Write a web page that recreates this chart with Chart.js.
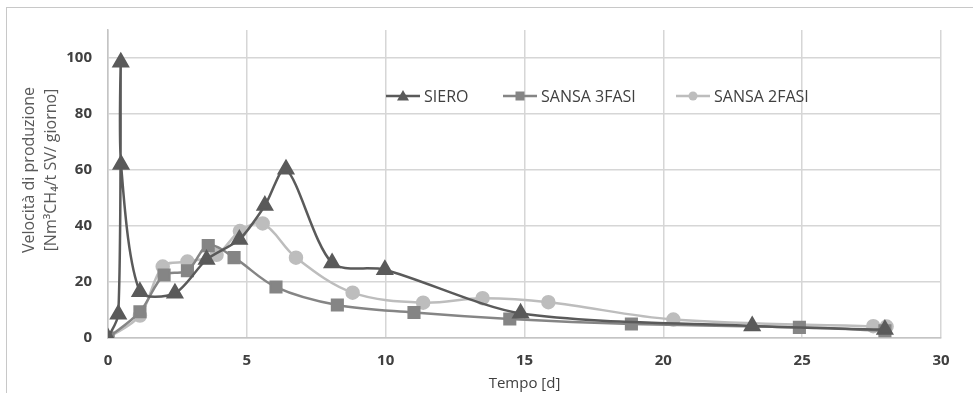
<!DOCTYPE html>
<html>
<head>
<meta charset="utf-8">
<script src="https://cdn.jsdelivr.net/npm/chart.js@4.4.1/dist/chart.umd.min.js"></script>
<style>
  html, body { margin: 0; padding: 0; background: #fff; }
  #wrap { position: relative; width: 973px; height: 393px; }
  #frame { position: absolute; left: 6px; top: 7px; width: 970px; height: 390px;
           border-left: 1px solid #c8c8c8; border-top: 1px solid #c8c8c8; }
  canvas { position: absolute; left: 0; top: 0; }
</style>
</head>
<body>
<div id="wrap">
  <div id="frame"></div>
  <canvas id="myChart" width="973" height="393"></canvas>
</div>
<script>
// tempo [d] e velocita' per ogni substrato
var sieroX = [0, 0.37, 0.46, 0.47, 1.15, 2.41, 3.55, 4.73, 5.65, 6.41, 8.07, 9.97, 14.86, 23.2, 27.98]
var sieroY = [0, 8.5, 98.5, 62, 16.5, 16, 28, 35.2, 47.3, 60.3, 26.8, 24.4, 8.8, 4.3, 3]

var sansa3X = [0, 1.15, 2.02, 2.86, 3.61, 4.54, 6.05, 8.26, 11.02, 14.47, 18.85, 24.9, 27.98]
var sansa3Y = [0, 9.4, 22.5, 24, 33, 28.7, 18.2, 11.8, 9.1, 6.8, 5, 3.8, 2.6]

var sansa2X = [0, 1.15, 1.97, 2.86, 3.91, 4.75, 5.57, 6.77, 8.81, 11.35, 13.49, 15.86, 20.36, 27.56, 28.04]
var sansa2Y = [0, 8, 25.5, 27.3, 29.7, 38.2, 40.9, 28.7, 16.2, 12.6, 14.2, 12.8, 6.6, 4.2, 4.1]

var xTicks = [0, 5, 10, 15, 20, 25, 30]
var yTicks = [0, 20, 40, 60, 80, 100]

var labels = ["SIERO", "SANSA 3FASI", "SANSA 2FASI"]
var colors = ["#5a5a5a", "#858585", "#bdbdbd"]
var shapes = ["triangle", "rect", "circle"]
var radii = [8, 7.5, 6]
var tensions = [0.28, 0.35, 0.35]

function pts(xs, ys){
  var out = []
  for (var i = 0; i < xs.length; i++) out.push({x: xs[i], y: ys[i]})
  return out
}

var series = [pts(sieroX, sieroY), pts(sansa3X, sansa3Y), pts(sansa2X, sansa2Y)]
var datasets = []
for (var i = 0; i < series.length; i++) {
  datasets.push({
    label: labels[i],
    data: series[i],
    showLine: true,
    borderColor: colors[i],
    backgroundColor: colors[i],
    borderWidth: 2.5,
    pointStyle: shapes[i],
    pointRadius: radii[i],
    tension: tensions[i]
  })
}

var FONT = "'Open Sans', 'DejaVu Sans', sans-serif"

// legenda e titolo asse Y disegnati a mano, come in Excel
var extras = {
  id: "extras",
  afterDraw: function(chart){
    var ctx = chart.ctx
    ctx.save()
    // titolo asse y
    ctx.fillStyle = "#595959"
    ctx.font = "16px " + FONT
    ctx.textAlign = "center"
    ctx.textBaseline = "middle"
    ctx.translate(29, 170)
    ctx.rotate(-Math.PI / 2)
    ctx.fillText("Velocità di produzione", 0, 0)
    ctx.fillText("[Nm³CH₄/t SV/ giorno]", 0, 22)
    ctx.restore()

    ctx.save()
    var lx = [386, 503, 676]
    var ly = 96
    ctx.font = "16px " + FONT
    ctx.textBaseline = "middle"
    ctx.textAlign = "left"
    for (var i = 0; i < labels.length; i++) {
      ctx.strokeStyle = colors[i]
      ctx.fillStyle = colors[i]
      ctx.lineWidth = 2.5
      ctx.beginPath()
      ctx.moveTo(lx[i], ly)
      ctx.lineTo(lx[i] + 34, ly)
      ctx.stroke()
      var cx = lx[i] + 17
      if (shapes[i] == "triangle") {
        ctx.beginPath()
        ctx.moveTo(cx, ly - 6)
        ctx.lineTo(cx + 6, ly + 4.5)
        ctx.lineTo(cx - 6, ly + 4.5)
        ctx.closePath()
        ctx.fill()
      } else if (shapes[i] == "rect") {
        ctx.fillRect(cx - 4.5, ly - 4.5, 9, 9)
      } else {
        ctx.beginPath()
        ctx.arc(cx, ly, 4.5, 0, Math.PI * 2)
        ctx.fill()
      }
      ctx.fillStyle = "#404040"
      ctx.fillText(labels[i], lx[i] + 38, ly + 1)
    }
    ctx.restore()
  }
}

var myChart = document.getElementById("myChart").getContext("2d")
var chart = new Chart(myChart, {
  type: "scatter",
  data: { datasets: datasets },
  options: {
    responsive: false,
    animation: false,
    layout: { padding: { left: 0, right: 32, top: 30, bottom: 0 } },
    plugins: {
      legend: { display: false },
      tooltip: { enabled: false }
    },
    scales: {
      x: {
        type: "linear",
        min: 0,
        max: 30,
        afterBuildTicks: function(s){ s.ticks = xTicks.map(function(v){ return {value: v} }) },
        afterFit: function(s){ s.height = 55 },
        grid: { color: "#d6d6d6", lineWidth: 1.5, drawTicks: false },
        border: { color: "#c4c4c4", width: 1.5 },
        ticks: { color: "#404040", padding: 14, font: { family: FONT, size: 15, weight: "bold" } },
        title: { display: true, text: "Tempo [d]", color: "#404040", padding: { top: 0, bottom: 0 },
                 font: { family: FONT, size: 15 } }
      },
      y: {
        min: 0,
        max: 110,
        afterBuildTicks: function(s){ s.ticks = yTicks.map(function(v){ return {value: v} }) },
        afterFit: function(s){ s.width = 108 },
        grid: { color: "#d6d6d6", lineWidth: 1.5, drawTicks: false },
        border: { color: "#c4c4c4", width: 1.5 },
        ticks: { color: "#404040", padding: 16, font: { family: FONT, size: 15, weight: "bold" } }
      }
    }
  },
  plugins: [extras]
})
</script>
</body>
</html>
